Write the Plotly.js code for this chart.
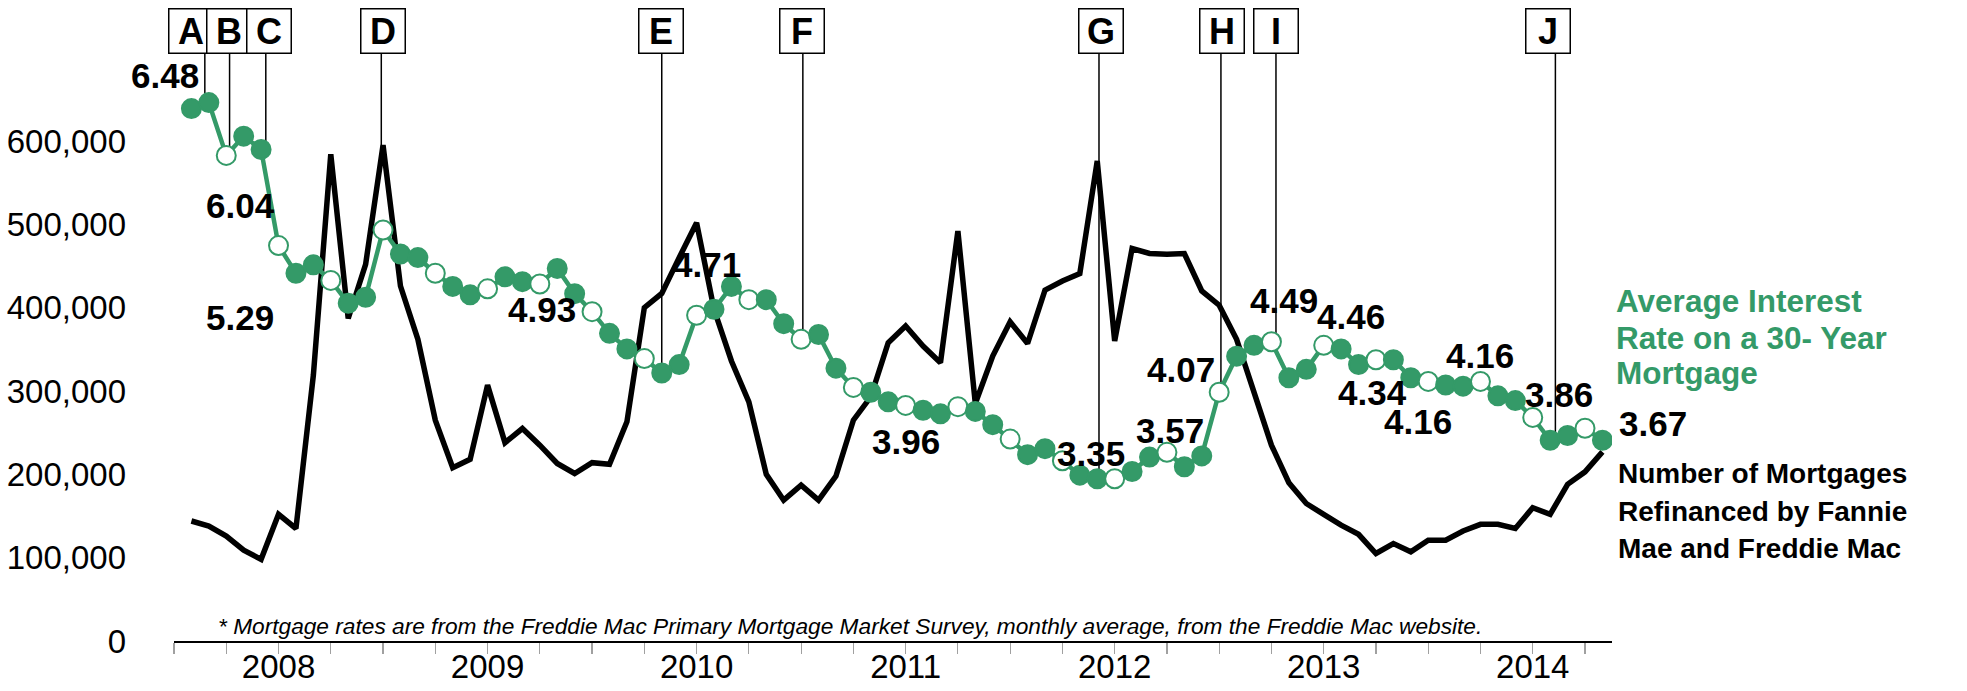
<!DOCTYPE html>
<html>
<head>
<meta charset="utf-8">
<script src="https://cdn.plot.ly/plotly-3.0.1.min.js"></script>
<style>
  html, body { margin: 0; padding: 0; background: #ffffff; }
  #chart { width: 1967px; height: 691px; }
</style>
</head>
<body>
<div id="chart"></div>
<script>
// ---------------- DATA ----------------
const months = [
  '2008-07','2008-08','2008-09','2008-10','2008-11','2008-12',
  '2009-01','2009-02','2009-03','2009-04','2009-05','2009-06','2009-07','2009-08','2009-09','2009-10','2009-11','2009-12',
  '2010-01','2010-02','2010-03','2010-04','2010-05','2010-06','2010-07','2010-08','2010-09','2010-10','2010-11','2010-12',
  '2011-01','2011-02','2011-03','2011-04','2011-05','2011-06','2011-07','2011-08','2011-09','2011-10','2011-11','2011-12',
  '2012-01','2012-02','2012-03','2012-04','2012-05','2012-06','2012-07','2012-08','2012-09','2012-10','2012-11','2012-12',
  '2013-01','2013-02','2013-03','2013-04','2013-05','2013-06','2013-07','2013-08','2013-09','2013-10','2013-11','2013-12',
  '2014-01','2014-02','2014-03','2014-04','2014-05','2014-06','2014-07','2014-08','2014-09','2014-10','2014-11','2014-12',
  '2015-01','2015-02','2015-03','2015-04'
];

// Number of mortgages refinanced by Fannie Mae and Freddie Mac
const refinanced = [
  144000,138000,126000,109000,98000,152000,
  135000,319000,584000,387000,452000,595000,426000,362000,265000,208000,218000,307000,
  238000,255000,235000,213000,201000,214000,212000,263000,400000,417000,460000,502000,
  398000,336000,287000,200000,169000,187000,169000,198000,265000,293000,358000,378000,
  354000,334000,492000,285000,342000,383000,357000,421000,432000,441000,576000,360000,
  471000,465000,464000,465000,420000,403000,362000,298000,235000,190000,165000,152000,
  139000,128000,105000,117000,107000,121000,121000,132000,140000,140000,135000,160000,
  152000,188000,203000,227000
];

// Average interest rate on a 30-year mortgage (%)
const rates = [
  6.43,6.48,6.04,6.20,6.09,5.29,
  5.06,5.13,5.00,4.81,4.86,5.42,5.22,5.19,5.06,4.95,4.88,4.93,
  5.03,4.99,4.97,5.10,4.89,4.74,4.56,4.43,4.35,4.23,4.30,4.71,
  4.76,4.95,4.84,4.84,4.64,4.51,4.55,4.27,4.11,4.07,3.99,3.96,
  3.92,3.89,3.95,3.91,3.80,3.68,3.55,3.60,3.50,3.38,3.35,3.35,
  3.41,3.53,3.57,3.45,3.54,4.07,4.37,4.46,4.49,4.19,4.26,4.46,
  4.43,4.30,4.34,4.34,4.19,4.16,4.13,4.12,4.16,4.04,4.00,3.86,
  3.67,3.71,3.77,3.67
];

const yearLabels = ['2008','2009','2010','2011','2012','2013','2014'];
const yearLabelMonths = ['2008-12','2009-12','2010-12','2011-12','2012-12','2013-12','2014-12'];
const yTickValues = [0,100000,200000,300000,400000,500000,600000];

// labelled rate points (month keys)
const labelledMonths = ['2008-08','2008-09','2008-12','2009-12','2010-12','2011-12','2012-12',
  '2013-03','2013-06','2013-09','2013-12','2014-03','2014-06','2014-09','2014-12','2015-04'];

// event markers A-J
const eventLetters = ['A','B','C','D','E','F','G','H','I','J'];
const eventPos = [1.77,3.19,5.27,11.9,28.0,36.1,53.1,60.1,63.26,79.3];
const eventAnchorMonths = ['2008-08','2008-09','2008-11','2009-06','2010-10','2011-06','2012-11','2013-06','2013-09','2015-01'];
const eventAnchorSeries = ['rate','rate','rate','refi','rate','rate','rate','rate','rate','rate'];

const legendRateLines = ['Average Interest','Rate on a 30- Year','Mortgage'];
const legendRefiLines = ['Number of Mortgages','Refinanced by Fannie','Mae and Freddie Mac'];
const footnote = '* Mortgage rates are from the Freddie Mac Primary Mortgage Market Survey, monthly average, from the Freddie Mac website.';

// ---------------- STYLE / LAYOUT ----------------
const GREEN = '#349a68';
const FONT = 'Liberation Sans, Arial, sans-serif';
const Y1_RANGE = [0, 757200];
const Y2_RANGE = [2, 7.25];
const X_RANGE = [0, 82.55];

const idx = months.map((m, i) => i + 1);
const monthNum = months.map(m => parseInt(m.slice(5), 10));
const markerFill = monthNum.map(m => (m % 3 === 0 ? '#ffffff' : GREEN));

// quarterly ticks
const tickVals = [];
for (let k = 0; k <= 82; k += 3) tickVals.push(k);
const tickText = tickVals.map(v => {
  const j = yearLabelMonths.indexOf(months[v - 1]);
  return j >= 0 ? yearLabels[j] : '';
});

// label offsets (pixels) for labelled points
const labelShift = [[-44,27],[14,-50],[-39,-72],[54,-21],[10,51],[0,-36],[-24,25],
  [3,22],[-38,23],[13,41],[27,29],[-3,-33],[-10,-40],[0,26],[26,23],[51,17]];
const boxShift = [-13.5,-1,3,2,-1,-1,2,1,0,-7];

const traces = [
  {
    x: idx, y: refinanced, type: 'scatter', mode: 'lines', yaxis: 'y',
    line: { color: '#000000', width: 5.5 }, hoverinfo: 'skip', showlegend: false
  },
  {
    x: idx, y: rates, type: 'scatter', mode: 'lines+markers', yaxis: 'y2',
    line: { color: GREEN, width: 4.5 },
    marker: { size: 19, color: markerFill, line: { color: GREEN, width: 2 } },
    hoverinfo: 'skip', showlegend: false
  }
];

const annotations = [];
labelledMonths.forEach((m, k) => {
  const i = months.indexOf(m);
  annotations.push({
    x: idx[i], y: rates[i], xref: 'x', yref: 'y2',
    text: rates[i].toFixed(2), showarrow: false,
    xshift: labelShift[k][0], yshift: labelShift[k][1],
    font: { family: FONT, size: 35, color: '#000000', weight: 'bold' }
  });
});

const shapes = [];
eventLetters.forEach((L, k) => {
  const i = months.indexOf(eventAnchorMonths[k]);
  const isRate = eventAnchorSeries[k] === 'rate';
  shapes.push({
    type: 'line', layer: 'below', xref: 'x', yref: isRate ? 'y2' : 'y',
    x0: eventPos[k], x1: eventPos[k],
    y0: isRate ? rates[i] : refinanced[i],
    y1: isRate ? Y2_RANGE[1] : Y1_RANGE[1],
    line: { color: '#000000', width: 1.5 }
  });
  annotations.push({
    x: eventPos[k], xref: 'x', y: 0.966, yref: 'paper',
    xshift: boxShift[k], yanchor: 'middle', xanchor: 'center',
    text: L, showarrow: false, width: 43, height: 43,
    bgcolor: '#ffffff', bordercolor: '#000000', borderwidth: 1.5, borderpad: 0,
    font: { family: FONT, size: 36, color: '#000000', weight: 'bold' }
  });
});

// series labels, one annotation per line
const rateLineY = [301, 338, 373];
const refiLineY = [473, 511, 548];
const plotTop = 10, plotH = 631;
legendRateLines.forEach((t, k) => {
  annotations.push({
    x: 1, xref: 'paper', xshift: 2, xanchor: 'left', align: 'left',
    y: 1 - (rateLineY[k] - plotTop) / plotH, yref: 'paper', yanchor: 'middle', showarrow: false,
    text: t, font: { family: FONT, size: 31.5, color: GREEN, weight: 'bold' }
  });
});
legendRefiLines.forEach((t, k) => {
  annotations.push({
    x: 1, xref: 'paper', xshift: 4, xanchor: 'left', align: 'left',
    y: 1 - (refiLineY[k] - plotTop) / plotH, yref: 'paper', yanchor: 'middle', showarrow: false,
    text: t, font: { family: FONT, size: 28, color: '#000000', weight: 'bold' }
  });
});
annotations.push({
  x: 0.0292, xref: 'paper', xanchor: 'left',
  y: 0.0245, yref: 'paper', yanchor: 'middle', showarrow: false,
  text: '<i>' + footnote + '</i>',
  font: { family: FONT, size: 22.7, color: '#000000' }
});

const layout = {
  width: 1967, height: 691,
  margin: { l: 174, r: 355, t: plotTop, b: 50, pad: 0 },
  paper_bgcolor: '#ffffff', plot_bgcolor: '#ffffff',
  showlegend: false,
  font: { family: FONT, color: '#000000' },
  xaxis: {
    range: X_RANGE, showgrid: false, zeroline: false,
    showline: true, linecolor: '#000000', linewidth: 1.5,
    ticks: 'outside', ticklen: 11, tickwidth: 1.2, tickcolor: '#a0a0a0',
    tickmode: 'array', tickvals: tickVals, ticktext: tickText,
    tickfont: { family: FONT, size: 33, color: '#000000' },
    ticklabelstandoff: -15
  },
  yaxis: {
    range: Y1_RANGE, showgrid: false, zeroline: false, showline: false,
    ticks: '', tickmode: 'array', tickvals: yTickValues, tickformat: ',',
    tickfont: { family: FONT, size: 33, color: '#000000' },
    ticklabelstandoff: 47
  },
  yaxis2: {
    range: Y2_RANGE, overlaying: 'y', side: 'right', visible: false,
    showgrid: false, zeroline: false
  },
  annotations: annotations,
  shapes: shapes
};

Plotly.newPlot('chart', traces, layout, { staticPlot: true, displayModeBar: false });
</script>
</body>
</html>
